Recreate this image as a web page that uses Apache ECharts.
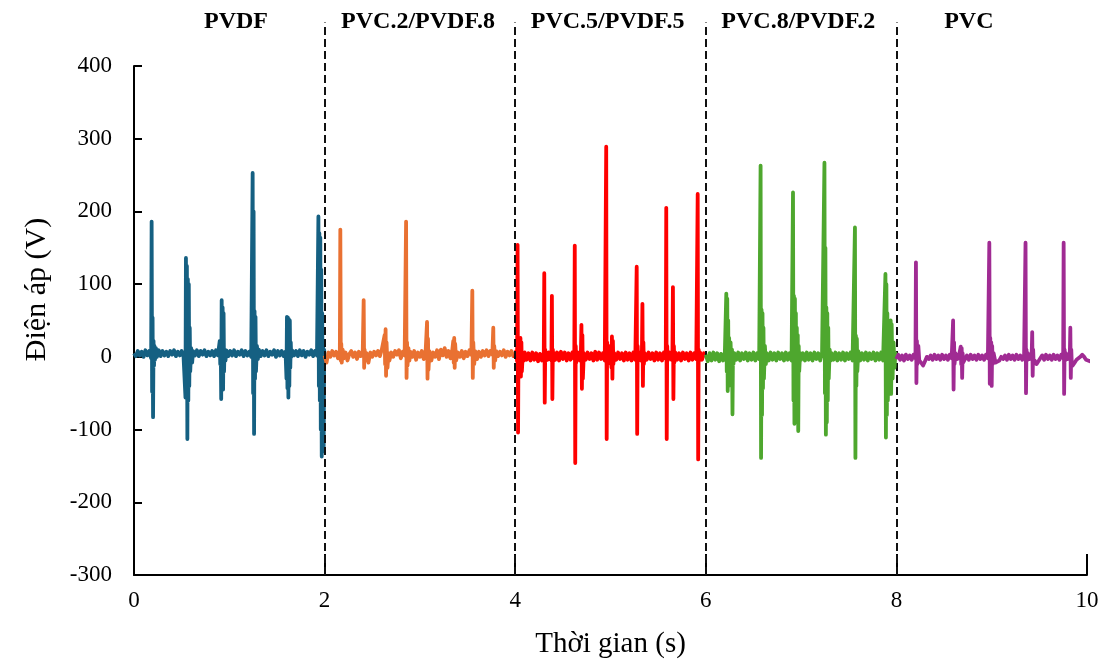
<!DOCTYPE html>
<html>
<head>
<meta charset="utf-8">
<script src="https://cdn.jsdelivr.net/npm/echarts@6/dist/echarts.min.js"></script>
<style>
  html, body { margin: 0; padding: 0; background: #fff; }
  #chart { width: 1109px; height: 671px; }
</style>
</head>
<body>
<div id="chart"></div>
<script>
// Voltage traces [time (s), voltage (V)] for each film composition
const pvdf = [
  [0,5],[0.02,1],[0.04,8],[0.06,2],[0.08,7],[0.1,0],[0.12,9],[0.14,2],[0.16,8],[0.18,-2],
  [0.185,186],[0.19,-48],[0.195,54],[0.2,-83],[0.205,22],[0.21,-12],[0.215,15],[0.22,-4],[0.23,12],[0.24,0],
  [0.26,9],[0.28,1],[0.3,8],[0.32,2],[0.34,7],[0.36,1],[0.38,8],[0.4,3],[0.42,9],[0.44,1],[0.46,7],[0.48,2],[0.5,8],[0.52,0],
  [0.54,-56],[0.545,136],[0.55,-36],[0.555,125],[0.56,-113],[0.565,107],[0.57,-60],[0.575,100],[0.58,-40],[0.585,40],[0.59,-20],[0.6,12],[0.61,-8],[0.62,8],
  [0.64,2],[0.66,9],[0.68,1],[0.7,8],[0.72,3],[0.74,9],[0.76,1],[0.78,7],[0.8,2],[0.82,8],[0.84,1],[0.86,9],[0.88,2],[0.9,22],[0.905,-10],
  [0.91,20],[0.915,-58],[0.92,78],[0.925,-40],[0.93,68],[0.935,-45],[0.94,60],[0.945,-20],[0.95,10],[0.96,-5],[0.97,9],
  [0.99,1],[1.01,8],[1.03,2],[1.05,9],[1.07,1],[1.09,7],[1.11,3],[1.13,9],[1.15,1],[1.17,8],[1.19,2],[1.21,7],[1.23,0],
  [1.245,253],[1.25,-50],[1.255,200],[1.26,-106],[1.265,63],[1.27,-30],[1.275,55],[1.28,-20],[1.29,15],[1.3,-3],[1.31,10],
  [1.33,1],[1.35,8],[1.37,2],[1.39,9],[1.41,1],[1.43,7],[1.45,3],[1.47,9],[1.49,0],[1.51,8],[1.53,2],[1.55,8],[1.57,1],[1.59,7],
  [1.6,-30],[1.605,55],[1.61,-43],[1.615,54],[1.62,-56],[1.625,52],[1.63,-40],[1.635,50],[1.64,-15],[1.645,20],[1.65,0],[1.66,9],
  [1.68,2],[1.7,8],[1.72,1],[1.74,9],[1.76,2],[1.78,8],[1.8,0],[1.82,7],[1.84,3],[1.86,9],[1.88,1],[1.9,8],[1.92,2],
  [1.935,193],[1.94,-40],[1.945,170],[1.95,-60],[1.955,164],[1.96,-100],[1.965,120],[1.97,-137],[1.975,60],[1.98,-90],[1.985,20],[1.99,-130],[1.995,10],[2.0,3]
];

const pvc2pvdf8 = [
  [2,2],[2.02,-8],[2.04,6],[2.06,0],[2.08,8],[2.1,2],[2.12,7],[2.14,-2],[2.16,8],
  [2.165,175],[2.17,-5],[2.175,18],[2.18,-8],[2.19,10],[2.2,-2],[2.22,6],[2.24,-5],[2.26,4],[2.28,8],[2.3,0],[2.32,6],[2.34,-3],[2.36,7],[2.38,1],[2.4,6],
  [2.41,78],[2.415,-15],[2.42,10],[2.43,-5],[2.44,5],[2.46,-8],[2.48,6],[2.5,0],[2.52,7],[2.54,2],[2.56,8],[2.58,1],[2.6,10],
  [2.63,30],[2.635,-10],[2.64,38],[2.645,-26],[2.65,20],[2.66,-15],[2.67,5],[2.68,-5],[2.7,6],[2.72,0],[2.74,8],[2.76,3],[2.78,9],[2.8,-2],[2.82,7],[2.84,2],
  [2.855,186],[2.86,-29],[2.865,20],[2.87,-12],[2.88,12],[2.89,-5],[2.9,7],[2.92,0],[2.94,8],[2.96,-4],[2.98,6],[3,0],[3.02,8],[3.04,-3],[3.06,7],
  [3.075,48],[3.08,-30],[3.085,25],[3.09,-18],[3.1,8],[3.12,-5],[3.14,6],[3.16,0],[3.18,9],[3.2,-3],[3.22,10],[3.24,2],[3.26,12],[3.28,0],[3.3,8],[3.32,-2],[3.34,10],
  [3.35,22],[3.355,-8],[3.36,26],[3.365,-15],[3.37,18],[3.38,-5],[3.4,6],[3.42,0],[3.44,8],[3.46,-2],[3.48,7],[3.5,1],[3.52,9],[3.54,3],
  [3.55,91],[3.555,-29],[3.56,20],[3.57,-10],[3.58,8],[3.6,-3],[3.62,7],[3.64,0],[3.66,8],[3.68,2],[3.7,9],[3.72,1],[3.74,8],[3.76,3],
  [3.77,40],[3.775,-15],[3.78,15],[3.79,-5],[3.8,8],[3.82,1],[3.84,7],[3.86,2],[3.88,9],[3.9,0],[3.92,7],[3.94,2],[3.96,8],[3.98,1],[4,4]
];

const pvc5pvdf5 = [
  [4,-2],[4.01,8],[4.02,-6],
  [4.025,154],[4.03,-104],[4.035,20],[4.04,-10],[4.05,8],[4.055,26],[4.06,-27],[4.065,20],[4.07,-20],[4.08,5],[4.09,-5],[4.1,6],[4.12,-4],[4.14,5],[4.16,-5],[4.18,6],[4.2,-4],[4.22,5],[4.24,-6],[4.26,4],[4.28,-5],[4.3,6],
  [4.305,115],[4.31,-63],[4.315,10],[4.32,-5],[4.33,5],[4.34,-4],[4.35,6],[4.36,-3],[4.37,5],[4.38,-5],
  [4.385,84],[4.39,-58],[4.395,10],[4.4,-6],[4.41,5],[4.42,-4],[4.44,6],[4.46,-5],[4.48,7],[4.5,-3],[4.52,6],[4.54,-5],[4.56,5],[4.58,-4],[4.6,6],[4.62,-3],
  [4.625,153],[4.63,-146],[4.635,15],[4.64,-8],[4.66,6],[4.68,-5],[4.69,10],[4.695,44],[4.7,-44],[4.705,30],[4.71,-30],[4.72,5],[4.74,-4],[4.76,6],[4.78,-3],[4.8,5],[4.82,-5],[4.84,7],[4.86,-4],[4.88,6],[4.9,-3],[4.92,5],[4.94,-5],
  [4.955,289],[4.96,-113],[4.965,20],[4.97,-10],[4.98,15],[4.99,-5],[5.0,10],[5.01,-15],[5.015,28],[5.02,-30],[5.025,22],[5.03,-10],[5.04,5],[5.06,-4],[5.08,6],[5.1,-3],[5.12,5],[5.14,-5],[5.16,6],[5.18,-4],[5.2,5],[5.22,-5],[5.24,6],[5.26,-4],
  [5.275,124],[5.28,-106],[5.285,15],[5.29,-5],[5.3,6],[5.32,-5],[5.33,10],[5.335,73],[5.34,-40],[5.345,20],[5.35,-10],[5.36,5],[5.38,-4],[5.4,6],[5.42,-3],[5.44,5],[5.46,-5],[5.48,6],[5.5,-4],[5.52,5],[5.54,-5],[5.56,6],[5.58,-3],
  [5.585,205],[5.59,-113],[5.595,15],[5.6,-5],[5.62,6],[5.64,-4],[5.65,10],[5.655,96],[5.66,-58],[5.665,15],[5.67,-8],[5.68,6],[5.7,-4],[5.72,5],[5.74,-5],[5.76,6],[5.78,-3],[5.8,5],[5.82,-5],[5.84,6],[5.86,-4],[5.88,5],[5.9,-3],
  [5.915,224],[5.92,-141],[5.925,10],[5.93,-5],[5.94,6],[5.96,-4],[5.98,5],[6,0]
];

const pvc8pvdf2 = [
  [6,3],[6.02,-6],[6.04,5],[6.06,-5],[6.08,6],[6.1,-4],[6.12,5],[6.14,-6],[6.16,4],[6.18,-5],[6.2,6],
  [6.215,87],[6.22,-20],[6.225,80],[6.23,-47],[6.235,50],[6.24,-40],[6.245,26],[6.25,-30],[6.26,20],[6.27,-20],[6.275,10],[6.28,-79],[6.285,5],[6.29,-10],[6.3,5],[6.32,-4],[6.34,6],[6.36,-5],[6.38,5],[6.4,-3],[6.42,6],[6.44,-5],[6.46,5],[6.48,-4],[6.5,6],[6.52,-5],[6.54,5],[6.56,-3],
  [6.575,263],[6.58,-139],[6.585,65],[6.59,-80],[6.595,60],[6.6,-43],[6.605,40],[6.61,-30],[6.62,15],[6.63,-10],[6.64,5],[6.66,-5],[6.68,6],[6.7,-4],[6.72,5],[6.74,-5],[6.76,6],[6.78,-3],[6.8,5],[6.82,-5],[6.84,6],[6.86,-4],[6.88,5],[6.9,-5],
  [6.915,226],[6.92,-60],[6.925,84],[6.93,-92],[6.935,80],[6.94,-70],[6.945,60],[6.95,-60],[6.955,40],[6.96,-80],[6.965,30],[6.97,-102],[6.975,15],[6.98,-20],[6.99,5],[7,-4],[7.02,5],[7.04,-5],[7.06,6],[7.08,-4],[7.1,5],[7.12,-5],[7.14,6],[7.16,-3],[7.18,5],[7.2,-5],[7.22,6],
  [7.245,267],[7.25,-50],[7.255,150],[7.26,-107],[7.265,68],[7.27,-90],[7.275,60],[7.28,-60],[7.285,40],[7.29,-30],[7.3,10],[7.31,-5],[7.32,5],[7.34,-4],[7.36,6],[7.38,-5],[7.4,5],[7.42,-4],[7.44,6],[7.46,-5],[7.48,5],[7.5,-3],[7.52,6],[7.54,-5],
  [7.565,178],[7.57,-139],[7.575,29],[7.58,-40],[7.585,25],[7.59,-20],[7.6,8],[7.62,-5],[7.64,5],[7.66,-4],[7.68,6],[7.7,-5],[7.72,5],[7.74,-3],[7.76,6],[7.78,-5],[7.8,5],[7.82,-4],[7.84,6],[7.86,-5],
  [7.885,114],[7.89,-111],[7.895,100],[7.9,-80],[7.905,60],[7.91,-60],[7.92,40],[7.93,-40],[7.94,50],[7.945,-51],[7.95,45],[7.96,-30],[7.97,20],[7.98,-15],[7.99,5],[8,-2]
];

const pvc = [
  [8,-3],[8.02,3],[8.04,-4],[8.06,2],[8.08,-5],[8.1,3],[8.12,-3],[8.14,2],[8.16,-4],[8.18,3],[8.2,-2],
  [8.205,130],[8.21,-36],[8.215,22],[8.22,-10],[8.23,15],[8.24,-5],[8.26,-8],[8.28,-12],[8.3,-6],[8.32,0],[8.34,-3],[8.36,2],[8.38,-4],[8.4,3],[8.42,-3],[8.44,2],[8.46,-4],[8.48,3],[8.5,-3],[8.52,2],[8.54,-4],[8.56,3],[8.58,-2],
  [8.595,50],[8.6,-45],[8.605,20],[8.61,-10],[8.62,5],[8.64,-3],[8.66,4],[8.675,14],[8.68,-10],[8.685,12],[8.69,-29],[8.695,5],[8.7,-8],[8.72,-3],[8.74,2],[8.76,-4],[8.78,3],[8.8,-3],[8.82,2],[8.84,-4],[8.86,3],[8.88,-3],[8.9,2],[8.92,-4],[8.94,3],[8.96,-2],
  [8.975,157],[8.98,-37],[8.985,26],[8.99,-20],[8.995,20],[9,-40],[9.005,15],[9.01,-10],[9.02,5],[9.04,-8],[9.06,-10],[9.08,-5],[9.1,0],[9.12,-3],[9.14,2],[9.16,-4],[9.18,3],[9.2,-3],[9.22,2],[9.24,-4],[9.26,3],[9.28,-3],[9.3,2],[9.32,-4],[9.34,3],
  [9.355,157],[9.36,-50],[9.365,10],[9.37,-5],[9.38,5],[9.4,-3],[9.42,5],[9.425,34],[9.43,-26],[9.435,10],[9.44,-8],[9.45,-5],[9.47,-10],[9.49,-6],[9.51,-2],[9.53,2],[9.55,-4],[9.57,3],[9.59,-3],[9.61,2],[9.63,-4],[9.65,3],[9.67,-3],[9.69,2],[9.71,-4],[9.73,3],[9.75,-2],
  [9.755,157],[9.76,-51],[9.765,10],[9.77,-5],[9.78,5],[9.8,-3],[9.82,5],[9.825,40],[9.83,-29],[9.835,10],[9.84,-8],[9.85,-12],[9.87,-8],[9.89,-4],[9.91,-2],[9.93,0],[9.95,3],[9.97,0],[9.99,-4],[10.01,-2],[10.03,-6],[10.04,-5]
];

// Segment boundaries and the composition names written above each segment
const boundaries = [2, 4, 6, 8];
const segmentNames = ['PVDF', 'PVC.2/PVDF.8', 'PVC.5/PVDF.5', 'PVC.8/PVDF.2', 'PVC'];
const segmentNameX = [1.07, 2.98, 4.97, 6.97, 8.76];

const xTicks = [0, 2, 4, 6, 8, 10];
const yTicks = [-300, -200, -100, 0, 100, 200, 300, 400];

const serif = '"Liberation Serif", "Times New Roman", serif';
const colors = ['#156082', '#E97132', '#FF0000', '#4EA72E', '#A02B93'];
const traces = [pvdf, pvc2pvdf8, pvc5pvdf5, pvc8pvdf2, pvc];

const chart = echarts.init(document.getElementById('chart'), null, { renderer: 'canvas' });

// Overlay grid shares the x scale and voltage units but reaches the top of the canvas,
// so the dashed separators and segment captions can rise above the plot area.
const overlayTop = 491;

const option = {
  animation: false,
  backgroundColor: '#ffffff',
  grid: [
    { left: 134, right: 22, top: 66, bottom: 96, containLabel: false },
    { left: 134, right: 22, top: 0, bottom: 96, containLabel: false }
  ],
  xAxis: [
    {
      type: 'value', gridIndex: 0, min: xTicks[0], max: xTicks[xTicks.length - 1], interval: 2,
      name: 'Thời gian (s)', nameLocation: 'middle', nameGap: 55,
      nameTextStyle: { fontFamily: serif, fontSize: 29, color: '#000' },
      axisLine: { onZero: false, lineStyle: { color: '#000', width: 2 } },
      axisTick: { inside: true, length: 21, lineStyle: { color: '#000', width: 2 } },
      axisLabel: { fontFamily: serif, fontSize: 23, color: '#000', margin: 14 },
      splitLine: { show: false }
    },
    { type: 'value', gridIndex: 1, min: 0, max: 10, show: false }
  ],
  yAxis: [
    {
      type: 'value', gridIndex: 0, min: yTicks[0], max: yTicks[yTicks.length - 1], interval: 100,
      name: 'Điện áp (V)', nameLocation: 'middle', nameGap: 82, nameRotate: 90,
      nameTextStyle: { fontFamily: serif, fontSize: 30, color: '#000', padding: [0, 0, 0, 62] },
      axisLine: { show: true, onZero: false, lineStyle: { color: '#000', width: 2 } },
      axisTick: { show: true, inside: true, length: 8, lineStyle: { color: '#000', width: 2 } },
      axisLabel: { fontFamily: serif, fontSize: 23, color: '#000', margin: 22 },
      splitLine: { show: false }
    },
    { type: 'value', gridIndex: 1, min: -300, max: overlayTop, show: false }
  ],
  series: traces.map((d, i) => ({
    type: 'line',
    xAxisIndex: 0, yAxisIndex: 0,
    data: d,
    showSymbol: false,
    symbol: 'none',
    clip: false,
    lineStyle: { color: colors[i], width: 3.8, join: 'round' },
    emphasis: { disabled: true },
    z: 2 + i
  })).concat([
    {
      type: 'line',
      xAxisIndex: 1, yAxisIndex: 1,
      data: [],
      markLine: {
        silent: true,
        symbol: ['none', 'none'],
        label: { show: false },
        lineStyle: { color: '#111', width: 2, type: [8, 4], opacity: 1 },
        data: boundaries.map(b => [{ coord: [b, -300] }, { coord: [b, 460] }])
      },
      z: 10
    },
    {
      type: 'scatter',
      xAxisIndex: 1, yAxisIndex: 1,
      symbolSize: 0,
      itemStyle: { opacity: 1 },
      data: segmentNames.map((n, i) => ({ value: [segmentNameX[i], 461], name: n })),
      label: {
        show: true, position: 'inside', opacity: 1,
        formatter: p => p.name,
        fontFamily: serif, fontWeight: 'bold', fontSize: 24, color: '#000'
      },
      emphasis: { disabled: true },
      z: 10
    }
  ])
};

chart.setOption(option);
</script>
</body>
</html>
